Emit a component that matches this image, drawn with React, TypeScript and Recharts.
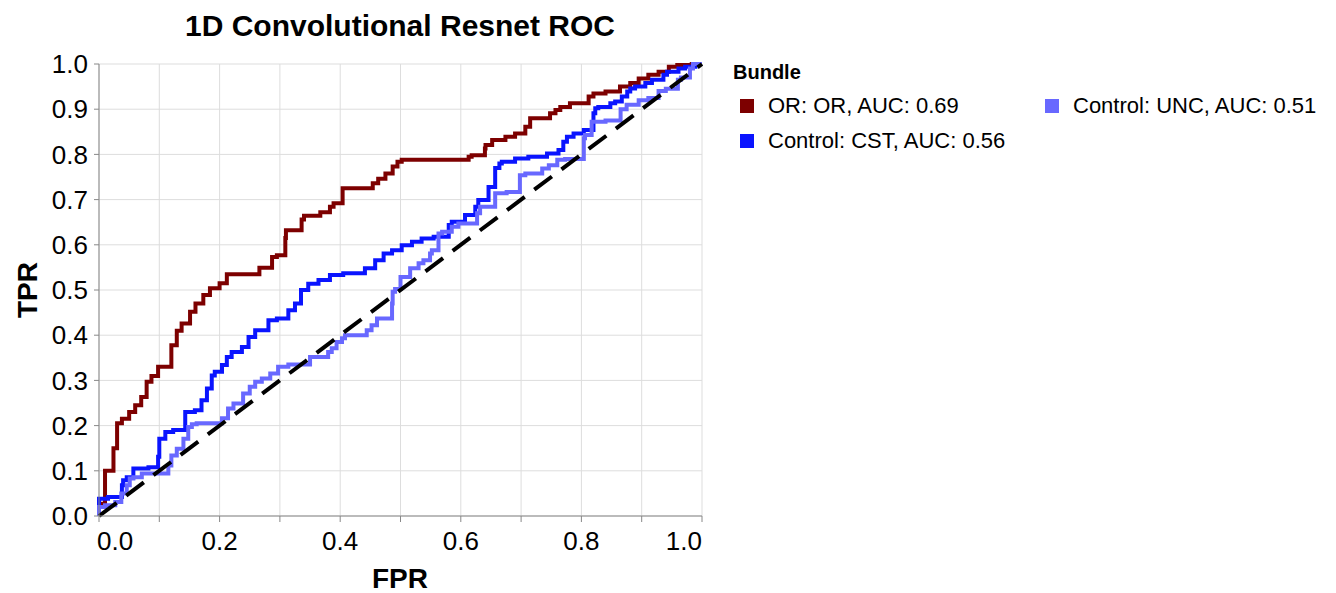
import { CartesianGrid, Line, LineChart, XAxis, YAxis } from "recharts";

const FONT = "'Liberation Sans', Arial, Helvetica, sans-serif";

// ROC points, per bundle
const orFpr = [0, 0, 0.01, 0.01, 0.024, 0.024, 0.03, 0.038, 0.05, 0.06, 0.07, 0.079, 0.087, 0.098, 0.12, 0.129, 0.137, 0.151, 0.16, 0.173, 0.184, 0.2, 0.212, 0.228, 0.266, 0.287, 0.295, 0.309, 0.31, 0.314, 0.336, 0.34, 0.367, 0.383, 0.389, 0.404, 0.406, 0.454, 0.463, 0.475, 0.487, 0.495, 0.502, 0.533, 0.613, 0.618, 0.64, 0.641, 0.652, 0.674, 0.69, 0.707, 0.715, 0.718, 0.748, 0.757, 0.765, 0.781, 0.812, 0.82, 0.84, 0.864, 0.881, 0.895, 0.911, 0.928, 0.945, 0.959, 0.983, 1];
const orTpr = [0, 0.027, 0.027, 0.1, 0.1, 0.145, 0.15, 0.205, 0.215, 0.23, 0.245, 0.263, 0.297, 0.31, 0.33, 0.378, 0.41, 0.426, 0.452, 0.47, 0.489, 0.504, 0.515, 0.535, 0.535, 0.549, 0.573, 0.577, 0.615, 0.632, 0.632, 0.656, 0.664, 0.672, 0.684, 0.692, 0.725, 0.725, 0.736, 0.746, 0.758, 0.773, 0.784, 0.788, 0.788, 0.795, 0.798, 0.813, 0.821, 0.832, 0.839, 0.846, 0.861, 0.88, 0.88, 0.891, 0.898, 0.905, 0.913, 0.928, 0.935, 0.939, 0.95, 0.958, 0.968, 0.976, 0.983, 0.994, 0.998, 1];

const cstFpr = [0, 0, 0.015, 0.038, 0.04, 0.046, 0.057, 0.082, 0.098, 0.1, 0.11, 0.123, 0.143, 0.159, 0.17, 0.179, 0.187, 0.192, 0.204, 0.212, 0.22, 0.237, 0.248, 0.259, 0.281, 0.295, 0.314, 0.325, 0.335, 0.347, 0.364, 0.383, 0.405, 0.441, 0.458, 0.472, 0.486, 0.502, 0.519, 0.535, 0.555, 0.58, 0.585, 0.607, 0.624, 0.629, 0.646, 0.657, 0.664, 0.668, 0.69, 0.712, 0.743, 0.762, 0.77, 0.776, 0.787, 0.804, 0.82, 0.823, 0.828, 0.848, 0.856, 0.867, 0.876, 0.881, 0.889, 0.906, 0.917, 0.936, 0.942, 0.961, 0.972, 0.989, 1];
const cstTpr = [0, 0.02, 0.038, 0.042, 0.068, 0.079, 0.086, 0.105, 0.108, 0.131, 0.171, 0.186, 0.19, 0.23, 0.234, 0.256, 0.282, 0.311, 0.319, 0.334, 0.352, 0.363, 0.374, 0.396, 0.411, 0.433, 0.437, 0.455, 0.47, 0.5, 0.514, 0.522, 0.533, 0.537, 0.548, 0.566, 0.581, 0.588, 0.599, 0.607, 0.614, 0.618, 0.644, 0.651, 0.666, 0.684, 0.699, 0.728, 0.77, 0.78, 0.784, 0.791, 0.795, 0.802, 0.81, 0.828, 0.839, 0.846, 0.854, 0.891, 0.902, 0.905, 0.913, 0.917, 0.928, 0.939, 0.946, 0.95, 0.958, 0.965, 0.976, 0.983, 0.99, 0.994, 1];

const uncFpr = [0, 0, 0.01, 0.027, 0.037, 0.046, 0.051, 0.057, 0.071, 0.079, 0.115, 0.12, 0.129, 0.14, 0.148, 0.154, 0.162, 0.204, 0.214, 0.223, 0.239, 0.25, 0.259, 0.27, 0.284, 0.297, 0.314, 0.331, 0.35, 0.352, 0.38, 0.386, 0.394, 0.403, 0.408, 0.444, 0.452, 0.461, 0.472, 0.486, 0.487, 0.491, 0.5, 0.516, 0.53, 0.538, 0.549, 0.552, 0.563, 0.569, 0.585, 0.596, 0.627, 0.632, 0.638, 0.657, 0.676, 0.698, 0.707, 0.735, 0.746, 0.76, 0.773, 0.804, 0.806, 0.817, 0.823, 0.84, 0.865, 0.875, 0.895, 0.911, 0.928, 0.94, 0.96, 0.965, 0.98, 0.985, 1];
const uncTpr = [0, 0.016, 0.02, 0.024, 0.031, 0.05, 0.068, 0.083, 0.086, 0.094, 0.094, 0.112, 0.134, 0.149, 0.171, 0.197, 0.203, 0.205, 0.216, 0.238, 0.249, 0.271, 0.286, 0.297, 0.304, 0.315, 0.33, 0.335, 0.335, 0.352, 0.352, 0.363, 0.371, 0.385, 0.393, 0.4, 0.411, 0.422, 0.437, 0.437, 0.47, 0.496, 0.502, 0.529, 0.548, 0.559, 0.566, 0.581, 0.588, 0.625, 0.629, 0.64, 0.647, 0.67, 0.684, 0.684, 0.714, 0.717, 0.754, 0.758, 0.769, 0.776, 0.788, 0.79, 0.836, 0.843, 0.872, 0.872, 0.875, 0.9, 0.91, 0.92, 0.925, 0.94, 0.945, 0.965, 0.97, 0.99, 1];

const chanceFpr = [0, 1];
const chanceTpr = [0, 1];

const xTicks = [0, 0.1, 0.2, 0.3, 0.4, 0.5, 0.6, 0.7, 0.8, 0.9, 1];
const yTicks = [0, 0.1, 0.2, 0.3, 0.4, 0.5, 0.6, 0.7, 0.8, 0.9, 1];

const toPoints = (fpr: number[], tpr: number[]) => fpr.map((x, i) => ({ fpr: x, tpr: tpr[i] }));

const SERIES = [
  { name: "OR: OR, AUC: 0.69", colour: "#7d0000", points: toPoints(orFpr, orTpr) },
  { name: "Control: CST, AUC: 0.56", colour: "#0a14ff", points: toPoints(cstFpr, cstTpr) },
  { name: "Control: UNC, AUC: 0.51", colour: "#6868ff", points: toPoints(uncFpr, uncTpr) },
];

function FprTick({ x, y, payload }: { x?: number; y?: number; payload?: { value: number } }) {
  if (x == null || y == null || !payload) return null;
  const idx = Math.round(payload.value * 10);
  const anchor = idx === 0 ? "start" : idx === 10 ? "end" : "middle";
  return (
    <g>
      <line x1={x} x2={x} y1={y} y2={y + 6} stroke="#888" strokeWidth={1} />
      {idx % 2 === 0 && (
        <text x={idx === 0 ? x - 2 : x} y={y + 34} textAnchor={anchor} fontSize={26} fontFamily={FONT} fill="#000">
          {payload.value.toFixed(1)}
        </text>
      )}
    </g>
  );
}

function BundleLegend() {
  const cell = (s: (typeof SERIES)[number], left: number, top: number) => (
    <div key={s.name} style={{ position: "absolute", left, top, display: "flex", alignItems: "center", whiteSpace: "nowrap" }}>
      <span style={{ width: 14, height: 14, background: s.colour, display: "inline-block", marginRight: 14 }} />
      <span style={{ fontSize: 22, color: "#000" }}>{s.name}</span>
    </div>
  );
  return (
    <div style={{ position: "absolute", left: 733, top: 61, width: 580, height: 110, fontFamily: FONT }}>
      <div style={{ position: "absolute", left: 0, top: 0, fontSize: 20, fontWeight: "bold" }}>Bundle</div>
      {cell(SERIES[0], 7, 32)}
      {cell(SERIES[1], 7, 67)}
      {cell(SERIES[2], 312, 32)}
    </div>
  );
}

export default function App() {
  return (
    <div style={{ position: "absolute", left: 0, top: 0, width: 1336, height: 593, background: "#fff" }}>
      <LineChart width={1336} height={593} margin={{ top: 64, right: 634, bottom: 37, left: 39 }}>
        <CartesianGrid stroke="#dddddd" strokeWidth={1} />
        <XAxis
          type="number"
          dataKey="fpr"
          domain={[0, 1]}
          ticks={xTicks}
          interval={0}
          height={40}
          tickSize={0}
          tickMargin={0}
          tickLine={false}
          tick={<FprTick />}
          axisLine={{ stroke: "#888" }}
        />
        <YAxis
          type="number"
          domain={[0, 1]}
          ticks={yTicks}
          interval={0}
          width={60}
          tickSize={5}
          tickMargin={6}
          tickLine={{ stroke: "#888" }}
          axisLine={{ stroke: "#888" }}
          tickFormatter={(v: number) => v.toFixed(1)}
          tick={{ fontSize: 26, fill: "#000", fontFamily: FONT }}
        />
        {SERIES.map((s) => (
          <Line
            key={s.name}
            data={s.points}
            dataKey="tpr"
            name={s.name}
            type="stepBefore"
            stroke={s.colour}
            strokeWidth={4}
            dot={false}
            activeDot={false}
            isAnimationActive={false}
          />
        ))}
        <Line
          data={toPoints(chanceFpr, chanceTpr)}
          dataKey="tpr"
          name="chance"
          type="linear"
          stroke="#000"
          strokeWidth={4}
          strokeDasharray="22 12"
          dot={false}
          activeDot={false}
          isAnimationActive={false}
        />
      </LineChart>
      <BundleLegend />
      <svg width={1336} height={593} style={{ position: "absolute", left: 0, top: 0, pointerEvents: "none" }}>
        <text x={400} y={36} textAnchor="middle" fontSize={30} fontWeight="bold" fontFamily={FONT} fill="#000">
          1D Convolutional Resnet ROC
        </text>
        <text x={400} y={588} textAnchor="middle" fontSize={28} fontWeight="bold" fontFamily={FONT} fill="#000">
          FPR
        </text>
        <text transform="translate(37,290) rotate(-90)" textAnchor="middle" fontSize={28} fontWeight="bold" fontFamily={FONT} fill="#000">
          TPR
        </text>
      </svg>
    </div>
  );
}
